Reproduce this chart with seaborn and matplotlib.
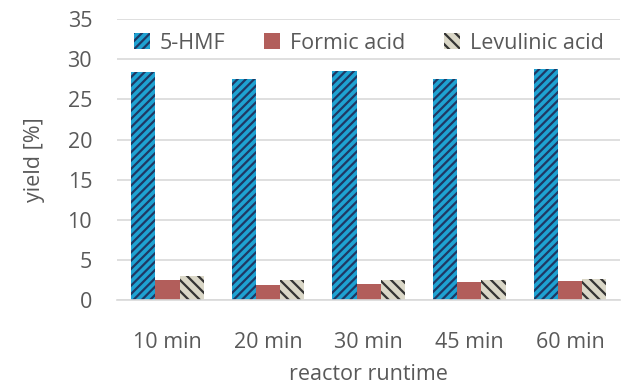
import matplotlib
matplotlib.use("Agg")
import matplotlib.pyplot as plt
import seaborn as sns
import pandas as pd

runtimes = ["10 min", "20 min", "30 min", "45 min", "60 min"]
hmf = [28.4, 27.6, 28.5, 27.6, 28.75]
formic = [2.5, 1.9, 2.0, 2.2, 2.3]
levulinic = [3.0, 2.5, 2.5, 2.5, 2.6]
series = ["5-HMF", "Formic acid", "Levulinic acid"]

df = pd.DataFrame({
    "runtime": runtimes * 3,
    "product": [series[0]] * 5 + [series[1]] * 5 + [series[2]] * 5,
    "yield": hmf + formic + levulinic,
})

sns.set_style("white")
plt.rcParams["font.family"] = ["Open Sans", "DejaVu Sans"]
plt.rcParams["hatch.linewidth"] = 1.6

text_col = "#595959"
fs = 15.5
fig = plt.figure(figsize=[6.33, 3.84], dpi=100)
ax = fig.add_axes([0.185, 0.219, 0.795, 0.731])

sns.barplot(data=df, x="runtime", y="yield", hue="product", order=runtimes,
            hue_order=series, palette=["#00B0F0", "#C0504D", "#DDD9C4"],
            width=0.72, ax=ax, legend=False)

hatches = ["////", None, "\\\\\\"]
edges = ["#1F3864", "#C0504D", "#333333"]
for cont, h, ec, name in zip(ax.containers, hatches, edges, series):
    cont.set_label(name)
    for p in cont:
        p.set_linewidth(0)
        p.set_edgecolor(ec)
        if h:
            p.set_hatch(h)

ax.set_ylim(0, 35)
ax.set_yticks(range(0, 36, 5))
ax.yaxis.grid(True, color="#D9D9D9", linewidth=1.2)
ax.set_axisbelow(True)
for s in ["top", "right", "left"]:
    ax.spines[s].set_visible(False)
ax.spines["bottom"].set_color("#D9D9D9")
ax.spines["bottom"].set_linewidth(1.2)

ax.tick_params(axis="x", length=0, pad=23, labelsize=fs, labelcolor=text_col)
ax.tick_params(axis="y", length=0, pad=18, labelsize=fs, labelcolor=text_col)
ax.set_xlabel("reactor runtime", fontsize=fs, color=text_col, labelpad=8)
ax.set_ylabel("yield [%]", fontsize=fs, color=text_col, labelpad=16)

h, l = ax.get_legend_handles_labels()
ax.legend(h, l, loc="center", bbox_to_anchor=(0.5, 0.915), ncol=3, frameon=False,
          fontsize=fs, labelcolor=text_col, handlelength=0.75, handleheight=0.75,
          handletextpad=0.45, columnspacing=1.8)

fig.savefig("out.png", dpi=100)
